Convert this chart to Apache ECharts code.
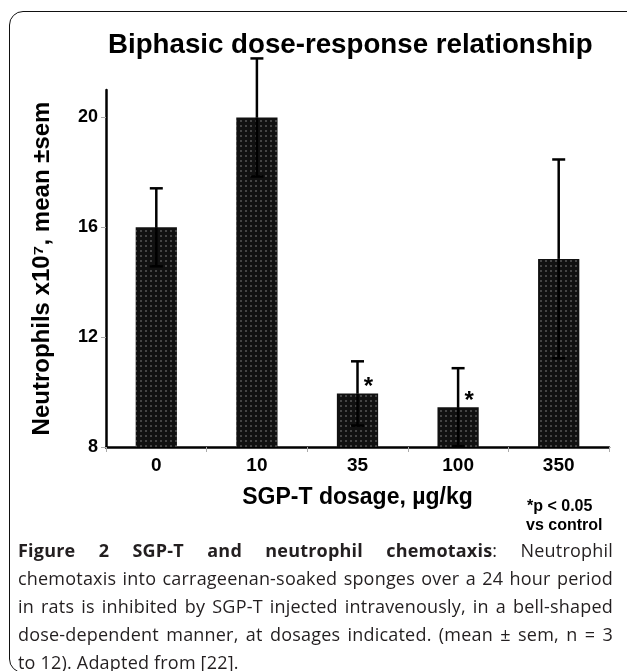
<!DOCTYPE html>
<html>
<head>
<meta charset="utf-8">
<script src="https://cdn.jsdelivr.net/npm/echarts@6/dist/echarts.min.js"></script>
<style>
  html, body { margin: 0; padding: 0; background: #fff; overflow: hidden; }
  #wrap { position: relative; width: 627px; height: 671px; overflow: hidden; }
  #chart { position: absolute; left: 0; top: 0; width: 627px; height: 671px; }
  #frame {
    position: absolute; left: 9px; top: 11px; width: 640px; height: 660px;
    border: 1.5px solid #111; border-radius: 14px; pointer-events: none;
  }
  #caption {
    position: absolute; left: 18px; top: 536px; width: 595px;
    font-family: "Open Sans", Lato, sans-serif; font-size: 18px; line-height: 28px;
    letter-spacing: 0.2px; color: #231f20;
  }
  #caption span { display: block; white-space: nowrap; }
  #caption span.j { text-align: justify; text-align-last: justify; }
</style>
</head>
<body>
<div id="wrap">
  <div id="chart"></div>
  <div id="frame"></div>
  <div id="caption">
    <span class="j"><b>Figure 2 SGP-T and neutrophil chemotaxis</b>: Neutrophil</span>
    <span class="j">chemotaxis into carrageenan-soaked sponges over a 24 hour period</span>
    <span class="j">in rats is inhibited by SGP-T injected intravenously, in a bell-shaped</span>
    <span class="j">dose-dependent manner, at dosages indicated. (mean ± sem, n = 3</span>
    <span>to 12). Adapted from [22].</span>
  </div>
</div>
<script>
// dose groups (µg/kg) and neutrophil counts x10^7
const categories = ['0', '10', '35', '100', '350']
const means = [16, 20, 9.95, 9.45, 14.85]
const sems = [1.42, 2.15, 1.17, 1.42, 3.62]
const sig = ['', '', '*', '*', '']
const yTicks = [8, 12, 16, 20]

const font = '"Liberation Sans", Arial, sans-serif'
const chart = echarts.init(document.getElementById('chart'))

function renderError(params, api) {
  const x = api.value(0)
  const m = api.value(1)
  const e = api.value(2)
  const top = api.coord([x, m + e])
  const mid = api.coord([x, m])
  const bot = api.coord([x, m - e])
  const half = 6.5
  const style = { stroke: '#000', lineWidth: 2.5 }
  return {
    type: 'group',
    children: [
      { type: 'line', shape: { x1: top[0], y1: top[1], x2: mid[0], y2: mid[1] }, style },
      { type: 'line', shape: { x1: top[0] - half, y1: top[1], x2: top[0] + half, y2: top[1] }, style },
      { type: 'line', shape: { x1: mid[0], y1: mid[1], x2: bot[0], y2: bot[1] }, style },
      { type: 'line', shape: { x1: bot[0] - half, y1: bot[1], x2: bot[0] + half, y2: bot[1] }, style }
    ]
  }
}

const option = {
  animation: false,
  aria: { enabled: true, decal: { show: true } },
  title: {
    text: 'Biphasic dose-response relationship',
    left: 103,
    top: 26,
    textStyle: { fontFamily: font, fontWeight: 'bold', fontSize: 27.7, color: '#000' }
  },
  grid: { left: 106, right: 18, top: 90, bottom: 224 },
  xAxis: {
    type: 'category',
    data: categories,
    name: 'SGP-T dosage, µg/kg',
    nameLocation: 'middle',
    nameGap: 39,
    nameTextStyle: { fontFamily: font, fontWeight: 'bold', fontSize: 23, color: '#000' },
    axisLine: { lineStyle: { color: '#000', width: 2.5 } },
    axisTick: { show: true, length: 5, lineStyle: { color: '#aaa', width: 1 } },
    axisLabel: { margin: 9, fontFamily: font, fontWeight: 'bold', fontSize: 19, color: '#000' }
  },
  yAxis: {
    type: 'value',
    min: 8,
    max: 21,
    interval: 4,
    name: 'Neutrophils x10⁷, mean ±sem',
    nameLocation: 'middle',
    nameGap: 52,
    nameTextStyle: { fontFamily: font, fontWeight: 'bold', fontSize: 24, color: '#000' },
    axisLine: { show: true, lineStyle: { color: '#000', width: 2.5 } },
    axisTick: { show: true, length: 5, lineStyle: { color: '#aaa', width: 1 }, customValues: yTicks },
    axisLabel: { margin: 8, fontFamily: font, fontWeight: 'bold', fontSize: 18, color: '#000', customValues: yTicks },
    splitLine: { show: false }
  },
  graphic: [
    { type: 'text', left: 527, top: 499, style: { text: '*p < 0.05', font: 'bold 16px ' + font, fill: '#000' } },
    { type: 'text', left: 526, top: 518, style: { text: 'vs control', font: 'bold 16px ' + font, fill: '#000' } }
  ],
  series: [
    {
      type: 'bar',
      data: means,
      barWidth: '41%',
      itemStyle: {
        color: '#111',
        decal: {
          symbol: 'rect',
          symbolSize: 1,
          dashArrayX: [1.2, 2.8],
          dashArrayY: [1.2, 2.8],
          rotation: 0,
          color: 'rgba(255,255,255,0.22)'
        }
      },
      label: {
        show: true,
        position: 'top',
        distance: 0,
        offset: [11, 6],
        formatter: p => sig[p.dataIndex],
        fontFamily: font,
        fontWeight: 'bold',
        fontSize: 24,
        color: '#000'
      }
    },
    {
      type: 'custom',
      renderItem: renderError,
      data: means.map((m, i) => [i, m, sems[i]]),
      clip: false,
      z: 5
    }
  ]
}

chart.setOption(option)
</script>
</body>
</html>
